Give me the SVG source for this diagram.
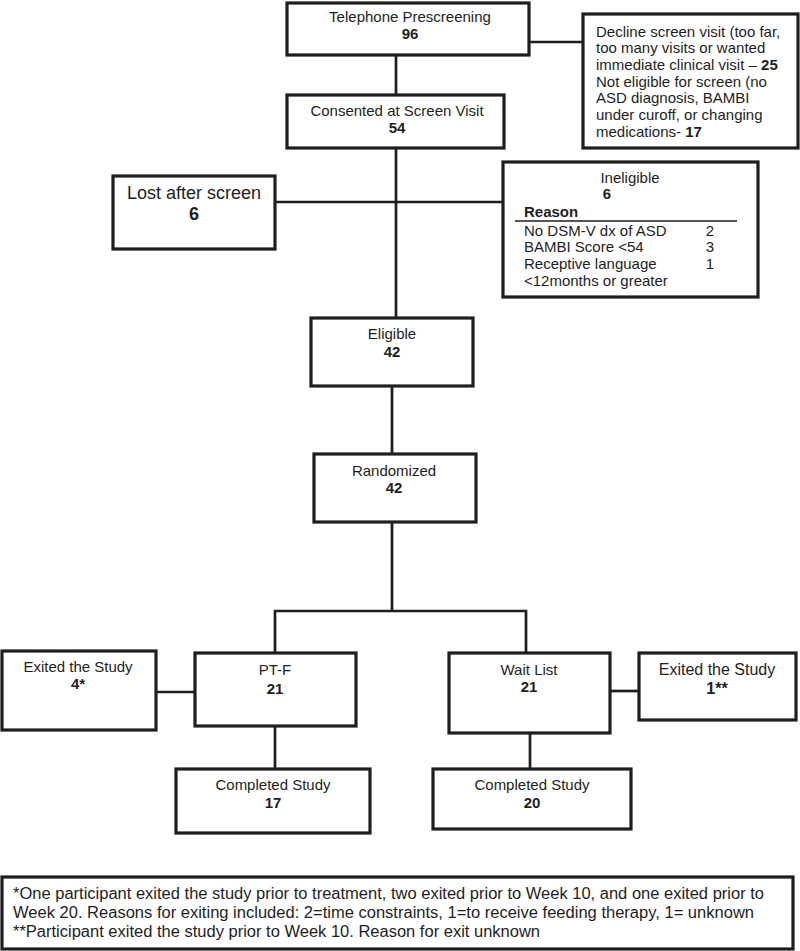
<svg xmlns="http://www.w3.org/2000/svg" width="800" height="951" viewBox="0 0 800 951">
<style>
.box{fill:#fff;stroke:#1e1e1e;stroke-width:3.2}
.ln{fill:none;stroke:#1e1e1e;stroke-width:2.7}
text{font-family:"Liberation Sans",Arial,sans-serif;font-size:15px;fill:#1e1e1e}
.c{text-anchor:middle}
.b{font-weight:bold}
.big{font-size:18px}
.fn{font-size:16px}
</style>
<rect width="800" height="951" fill="#fff"/>
<g id="connectors">
<line class="ln" x1="396" y1="55" x2="396" y2="95"/>
<line class="ln" x1="529" y1="42" x2="583" y2="42"/>
<line class="ln" x1="396" y1="148" x2="396" y2="318"/>
<line class="ln" x1="275" y1="202" x2="503" y2="202"/>
<line class="ln" x1="392" y1="386" x2="392" y2="454"/>
<line class="ln" x1="392" y1="522" x2="392" y2="611"/>
<polyline class="ln" points="275,653 275,611 526,611 526,653"/>
<line class="ln" x1="156" y1="692" x2="195" y2="692"/>
<line class="ln" x1="610" y1="691" x2="639" y2="691"/>
<line class="ln" x1="275" y1="726" x2="275" y2="769"/>
<line class="ln" x1="530" y1="733" x2="530" y2="769"/>
</g>
<g id="telephone">
<rect class="box" x="287" y="3" width="242" height="52"/>
<text class="c" x="410" y="22">Telephone Prescreening</text>
<text class="c b" x="410" y="39">96</text>
</g>
<g id="decline">
<rect class="box" x="583" y="14" width="215" height="134"/>
<text x="596" y="37">Decline screen visit (too far,</text>
<text x="596" y="53">too many visits or wanted</text>
<text x="596" y="70">immediate clinical visit – <tspan class="b">25</tspan></text>
<text x="596" y="87">Not eligible for screen (no</text>
<text x="596" y="103">ASD diagnosis,  BAMBI</text>
<text x="596" y="120">under curoff, or changing</text>
<text x="596" y="137">medications- <tspan class="b">17</tspan></text>
</g>
<g id="consented">
<rect class="box" x="287" y="95" width="217" height="53"/>
<text class="c" x="397" y="116">Consented at Screen Visit</text>
<text class="c b" x="397" y="133">54</text>
</g>
<g id="lost">
<rect class="box" x="113" y="176" width="162" height="73"/>
<text class="c big" x="194" y="199">Lost after screen</text>
<text class="c b big" x="194" y="220">6</text>
</g>
<g id="ineligible">
<rect class="box" x="503" y="162" width="255" height="135"/>
<text class="c" x="630" y="183">Ineligible</text>
<text class="c b" x="607" y="199">6</text>
<text class="b" x="524" y="217">Reason</text>
<line x1="515" y1="221" x2="737" y2="221" stroke="#1e1e1e" stroke-width="1.5"/>
<text x="524" y="236">No DSM-V dx of ASD</text>
<text x="524" y="252">BAMBI Score &lt;54</text>
<text x="524" y="269">Receptive language</text>
<text x="524" y="286">&lt;12months or greater</text>
<text class="c" x="710" y="236">2</text>
<text class="c" x="710" y="252">3</text>
<text class="c" x="710" y="269">1</text>
</g>
<g id="eligible">
<rect class="box" x="311" y="318" width="162" height="68"/>
<text class="c" x="392" y="339">Eligible</text>
<text class="c b" x="392" y="357">42</text>
</g>
<g id="randomized">
<rect class="box" x="314" y="454" width="162" height="68"/>
<text class="c" x="394" y="476">Randomized</text>
<text class="c b" x="394" y="493">42</text>
</g>
<g id="exited-left">
<rect class="box" x="2" y="651" width="154" height="79"/>
<text class="c" x="78" y="672">Exited the Study</text>
<text class="c b" x="78" y="689">4*</text>
</g>
<g id="ptf">
<rect class="box" x="195" y="653" width="161" height="73"/>
<text class="c" x="275" y="675">PT-F</text>
<text class="c b" x="275" y="694">21</text>
</g>
<g id="waitlist">
<rect class="box" x="449" y="653" width="161" height="80"/>
<text class="c" x="529" y="675">Wait List</text>
<text class="c b" x="529" y="692">21</text>
</g>
<g id="exited-right">
<rect class="box" x="639" y="653" width="157" height="67"/>
<text class="c" x="717" y="675" style="font-size:16px">Exited the Study</text>
<text class="c b" x="717" y="694" style="font-size:16px">1**</text>
</g>
<g id="completed-left">
<rect class="box" x="176" y="769" width="194" height="64"/>
<text class="c" x="273" y="790">Completed Study</text>
<text class="c b" x="273" y="808">17</text>
</g>
<g id="completed-right">
<rect class="box" x="433" y="769" width="198" height="60"/>
<text class="c" x="532" y="790">Completed Study</text>
<text class="c b" x="532" y="808">20</text>
</g>
<g id="footnote">
<rect class="box" x="2" y="877" width="791" height="72"/>
<text class="fn" x="13" y="899" textLength="751" lengthAdjust="spacingAndGlyphs">*One participant exited the study prior to treatment, two exited prior to Week 10, and one exited prior to</text>
<text class="fn" x="13" y="918" textLength="741" lengthAdjust="spacingAndGlyphs">Week 20. Reasons for exiting included: 2=time constraints, 1=to receive feeding therapy, 1= unknown</text>
<text class="fn" x="13" y="937" textLength="527" lengthAdjust="spacingAndGlyphs">**Participant exited the study prior to Week 10. Reason for exit unknown</text>
</g>
</svg>
